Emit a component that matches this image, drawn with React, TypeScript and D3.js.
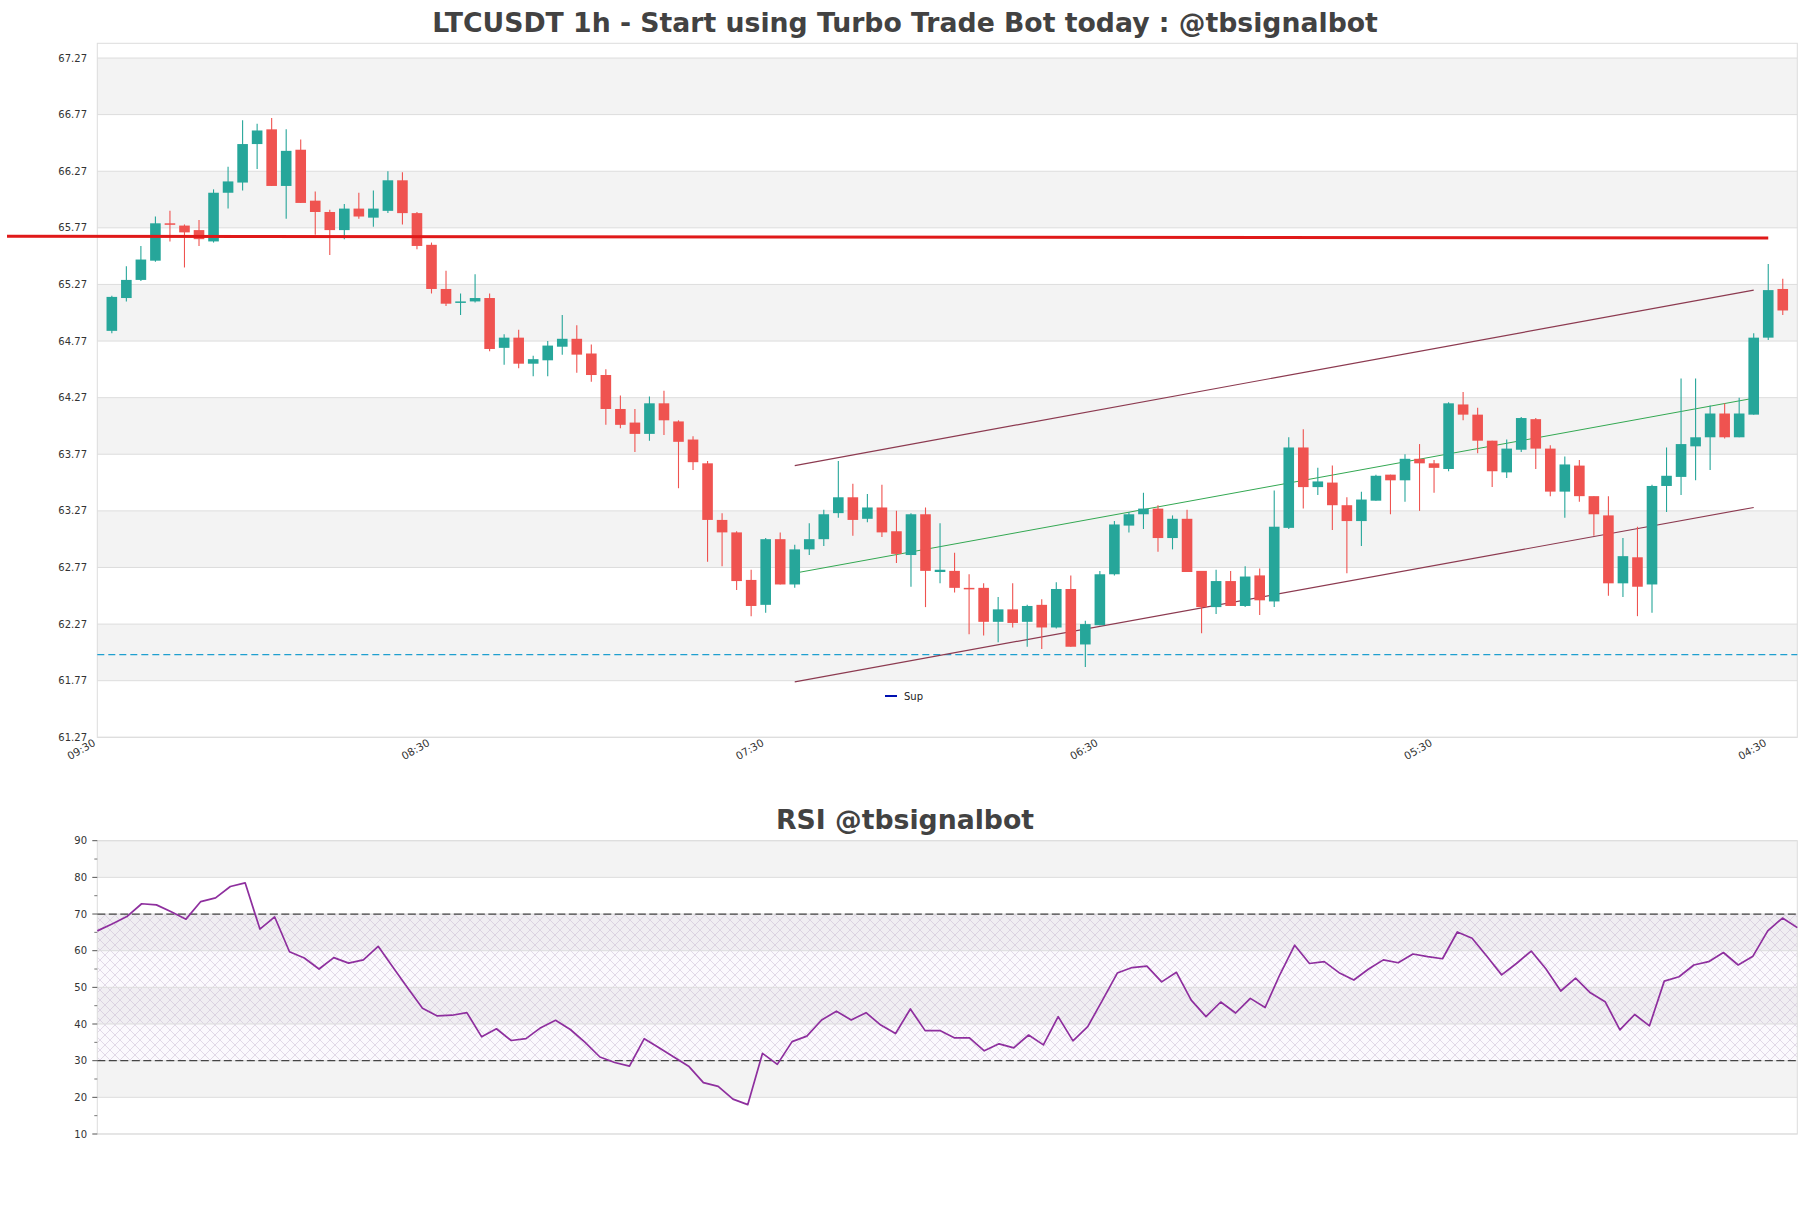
import React from 'react';
import * as d3 from 'd3';

// ---------------- DATA ----------------
const openP = [
  64.86, 65.15, 65.31, 65.48, 65.81, 65.79, 65.75, 65.65, 66.08, 66.17,
  66.51, 66.64, 66.14, 66.46, 66.01, 65.91, 65.75, 65.94, 65.86, 65.92,
  66.19, 65.90, 65.62, 65.23, 65.11, 65.12, 65.15, 64.71, 64.80, 64.57,
  64.60, 64.72, 64.79, 64.66, 64.47, 64.17, 64.05, 63.95, 64.22, 64.06,
  63.90, 63.69, 63.19, 63.08, 62.66, 62.44, 63.02, 62.62, 62.93, 63.02,
  63.25, 63.39, 63.20, 63.30, 63.09, 62.88, 63.24, 62.73, 62.74, 62.59,
  62.59, 62.29, 62.40, 62.29, 62.44, 62.24, 62.58, 62.09, 62.26, 62.71,
  63.14, 63.24, 63.29, 63.03, 63.20, 62.74, 62.42, 62.65, 62.43, 62.70,
  62.47, 63.12, 63.83, 63.48, 63.52, 63.32, 63.18, 63.36, 63.59, 63.54,
  63.73, 63.69, 63.64, 64.21, 64.12, 63.89, 63.61, 63.81, 64.08, 63.82,
  63.44, 63.67, 63.40, 63.23, 62.63, 62.86, 62.62, 63.49, 63.57, 63.84,
  63.92, 64.13, 63.92, 64.12, 64.80, 65.23,
];
const highP = [
  65.17, 65.43, 65.61, 65.87, 65.92, 65.80, 65.84, 66.11, 66.31, 66.72,
  66.69, 66.74, 66.64, 66.55, 66.09, 65.93, 65.98, 66.08, 66.10, 66.27,
  66.26, 65.91, 65.64, 65.39, 65.19, 65.36, 65.19, 64.83, 64.87, 64.64,
  64.77, 65.00, 64.91, 64.74, 64.52, 64.29, 64.17, 64.28, 64.33, 64.07,
  63.93, 63.71, 63.25, 63.09, 62.75, 63.03, 63.08, 62.97, 63.16, 63.28,
  63.71, 63.51, 63.42, 63.50, 63.27, 63.25, 63.30, 63.16, 62.90, 62.71,
  62.63, 62.51, 62.63, 62.44, 62.49, 62.64, 62.70, 62.30, 62.74, 63.18,
  63.26, 63.43, 63.32, 63.23, 63.28, 62.74, 62.75, 62.74, 62.78, 62.76,
  63.45, 63.92, 63.99, 63.65, 63.67, 63.39, 63.44, 63.59, 63.59, 63.77,
  63.86, 63.72, 64.23, 64.32, 64.18, 63.89, 63.90, 64.10, 64.09, 63.85,
  63.75, 63.72, 63.40, 63.40, 63.03, 63.13, 63.50, 63.83, 64.44, 64.44,
  64.20, 64.22, 64.27, 64.84, 65.45, 65.32,
];
const lowP = [
  64.84, 65.12, 65.30, 65.47, 65.65, 65.42, 65.61, 65.64, 65.94, 66.10,
  66.29, 66.14, 65.85, 65.99, 65.71, 65.53, 65.67, 65.85, 65.78, 65.90,
  65.80, 65.58, 65.19, 65.08, 65.00, 65.11, 64.68, 64.56, 64.53, 64.46,
  64.46, 64.65, 64.49, 64.41, 64.03, 64.00, 63.79, 63.89, 63.94, 63.47,
  63.63, 62.82, 62.78, 62.57, 62.34, 62.37, 62.62, 62.59, 62.88, 62.96,
  63.21, 63.05, 63.17, 63.04, 62.81, 62.60, 62.42, 62.63, 62.55, 62.18,
  62.17, 62.11, 62.24, 62.07, 62.05, 62.23, 62.07, 61.89, 62.26, 62.70,
  63.08, 63.11, 62.91, 62.93, 62.73, 62.19, 62.36, 62.43, 62.42, 62.35,
  62.42, 63.11, 63.29, 63.41, 63.10, 62.72, 62.96, 63.36, 63.24, 63.35,
  63.27, 63.43, 63.62, 64.07, 63.78, 63.48, 63.56, 63.79, 63.64, 63.40,
  63.21, 63.35, 63.05, 62.52, 62.51, 62.34, 62.37, 63.26, 63.41, 63.54,
  63.63, 63.91, 63.92, 64.12, 64.78, 65.00,
];
const closeP = [
  65.16, 65.31, 65.49, 65.81, 65.80, 65.73, 65.67, 66.08, 66.18, 66.51,
  66.63, 66.14, 66.45, 65.99, 65.91, 65.75, 65.94, 65.87, 65.94, 66.19,
  65.90, 65.61, 65.23, 65.10, 65.12, 65.15, 64.70, 64.80, 64.57, 64.61,
  64.73, 64.79, 64.65, 64.47, 64.17, 64.03, 63.95, 64.22, 64.07, 63.88,
  63.70, 63.19, 63.08, 62.65, 62.43, 63.02, 62.62, 62.93, 63.02, 63.24,
  63.39, 63.19, 63.30, 63.08, 62.89, 63.24, 62.74, 62.75, 62.59, 62.58,
  62.29, 62.40, 62.28, 62.43, 62.24, 62.58, 62.07, 62.27, 62.71, 63.15,
  63.24, 63.29, 63.03, 63.20, 62.73, 62.42, 62.65, 62.43, 62.69, 62.48,
  63.13, 63.83, 63.48, 63.53, 63.32, 63.18, 63.37, 63.58, 63.54, 63.73,
  63.69, 63.65, 64.22, 64.12, 63.89, 63.62, 63.82, 64.09, 63.82, 63.44,
  63.68, 63.40, 63.24, 62.63, 62.87, 62.60, 63.49, 63.58, 63.86, 63.92,
  64.13, 63.92, 64.13, 64.80, 65.22, 65.04,
];
const rsiValues = [
  65.4, 67.3, 69.3, 72.8, 72.5, 70.6, 68.6, 73.4, 74.4, 77.5,
  78.5, 65.9, 69.2, 59.7, 58.0, 55.0, 58.1, 56.6, 57.5, 61.2,
  55.5, 49.8, 44.3, 42.2, 42.4, 43.1, 36.5, 38.7, 35.5, 36.0,
  39.0, 41.0, 38.5, 35.0, 31.0, 29.5, 28.5, 36.0, 33.5, 31.0,
  28.5, 24.0, 23.0, 19.5, 18.0, 32.0, 29.0, 35.2, 36.7, 41.1,
  43.5, 41.1, 43.1, 39.7, 37.4, 44.1, 38.2, 38.2, 36.2, 36.2,
  32.7, 34.6, 33.5, 37.0, 34.3, 42.0, 35.4, 39.3, 46.5, 53.9,
  55.4, 55.8, 51.5, 54.1, 46.5, 42.0, 46.0, 43.0, 47.0, 44.5,
  53.5, 61.5, 56.5, 57.0, 54.0, 52.0, 55.0, 57.5, 56.7, 59.1,
  58.4, 57.8, 65.1, 63.4, 58.5, 53.4, 56.5, 59.9, 55.0, 49.0,
  52.5, 48.5, 46.1, 38.4, 42.6, 39.5, 51.7, 52.9, 56.1, 57.0,
  59.5, 56.1, 58.5, 65.4, 68.9, 66.3,
];
const priceTicks = [61.27, 61.77, 62.27, 62.77, 63.27, 63.77, 64.27, 64.77, 65.27, 65.77, 66.27, 66.77, 67.27];
const rsiTicks = [10, 20, 30, 40, 50, 60, 70, 80, 90];
const rsiMinorTicks = [15, 25, 35, 45, 55, 65, 75, 85];
const xTickIndex = [-1, 22, 45, 68, 91, 114];
const xTickLabels = ['09:30', '08:30', '07:30', '06:30', '05:30', '04:30'];
const resistanceStart = 65.695;
const resistanceEnd = 65.68;
const resistanceEndIndex = 114;
const supportLevel = 62.0;
const channelUpper = [[47, 63.67], [113, 65.22]];
const channelLower = [[47, 61.76], [113, 63.3]];
const channelMid = [[47, 62.72], [113, 64.265]];
const rsiUpper = 70;
const rsiLower = 30;
const titleMain = 'LTCUSDT 1h - Start using Turbo Trade Bot today : @tbsignalbot';
const titleRsi = 'RSI @tbsignalbot';
const legendLabel = 'Sup';

// ---------------- LAYOUT ----------------
const W = 1811;
const H = 1208;
const L = 97.3;
const R = 1797.3;
const P_TOP = 43.3;
const P_BOT = 737.3;
const R_TOP = 840.7;
const R_BOT = 1134;
const FONT = 'DejaVu Sans, Verdana, sans-serif';
const GREEN = '#26a69a';
const RED = '#ef5350';
const BAND = '#f3f3f3';
const GRID = '#dddddd';

export default function App() {
  const n = closeP.length;
  const x = d3.scaleLinear().domain([-1, n]).range([L, R]);
  const y = d3.scaleLinear().domain([61.27, 67.4]).range([P_BOT, P_TOP]);
  const xr = d3.scaleLinear().domain([0, rsiValues.length - 1]).range([L, R]);
  const yr = d3.scaleLinear().domain([10, 90]).range([R_BOT, R_TOP]);
  const step = x(1) - x(0);
  const bw = step * 0.73;

  const rsiLine = d3.line<number>().x((_, i) => xr(i)).y((v) => yr(v))(rsiValues) || '';
  const seg = (pts: number[][]) =>
    d3.line<number[]>().x((p) => x(p[0])).y((p) => y(p[1]))(pts) || '';

  return (
    <svg width={W} height={H} style={{ position: 'absolute', left: 0, top: 0, background: '#fff' }}
      xmlns="http://www.w3.org/2000/svg">
      <defs>
        <pattern id="hatch" width="10" height="10" patternUnits="userSpaceOnUse">
          <rect width="10" height="10" fill="rgba(225,205,235,0.12)" />
          <path d="M0,0 L10,10 M10,0 L0,10" stroke="#c4b6d0" strokeWidth="0.6" opacity="0.8" />
        </pattern>
      </defs>
      <rect x={0} y={0} width={W} height={H} fill="#fff" />

      {/* ---------- Titles ---------- */}
      <text x={905} y={32} textAnchor="middle" fontFamily={FONT} fontWeight="bold" fontSize={26.7} fill="#424242">
        {titleMain}
      </text>
      <text x={905} y={829} textAnchor="middle" fontFamily={FONT} fontWeight="bold" fontSize={26.7} fill="#424242">
        {titleRsi}
      </text>

      {/* ---------- Price panel ---------- */}
      {priceTicks.slice(0, -1).map((t, k) =>
        k % 2 === 1 ? (
          <rect key={'pb' + k} x={L} width={R - L} y={y(priceTicks[k + 1])}
            height={y(t) - y(priceTicks[k + 1])} fill={BAND} />
        ) : null
      )}
      {priceTicks.map((t) => (
        <line key={'pg' + t} x1={L} x2={R} y1={y(t)} y2={y(t)} stroke={GRID} strokeWidth={1} />
      ))}
      <rect x={L} y={P_TOP} width={R - L} height={P_BOT - P_TOP} fill="none" stroke={GRID} strokeWidth={1} />
      {priceTicks.map((t) => (
        <text key={'pl' + t} x={87} y={y(t)} dy="0.35em" textAnchor="end" fontFamily={FONT} fontSize={10} fill="#333">
          {t.toFixed(2)}
        </text>
      ))}
      {xTickIndex.map((ti, k) => (
        <text key={'xl' + k} transform={`translate(${x(ti) - 1},745) rotate(-30)`} textAnchor="end"
          fontFamily={FONT} fontSize={10.5} fill="#333">
          {xTickLabels[k]}
        </text>
      ))}

      {/* support dashed */}
      <line x1={L} x2={R} y1={y(supportLevel)} y2={y(supportLevel)} stroke="#1f9fcf" strokeWidth={1.3}
        strokeDasharray="7,4" />

      {/* channel */}
      <path d={seg(channelUpper)} stroke="#8c3a50" strokeWidth={1.2} fill="none" />
      <path d={seg(channelLower)} stroke="#8c3a50" strokeWidth={1.2} fill="none" />
      <path d={seg(channelMid)} stroke="#33a852" strokeWidth={1} fill="none" />

      {/* candles */}
      {closeP.map((c, i) => {
        const o = openP[i];
        const up = c >= o;
        const col = up ? GREEN : RED;
        const top = y(Math.max(o, c));
        const bot = y(Math.min(o, c));
        return (
          <g key={'c' + i}>
            <line x1={x(i)} x2={x(i)} y1={y(highP[i])} y2={y(lowP[i])} stroke={col} strokeWidth={1.1} />
            <rect x={x(i) - bw / 2} y={top} width={bw} height={Math.max(1.5, bot - top)} fill={col} />
          </g>
        );
      })}

      {/* resistance red line */}
      <line x1={7} x2={x(resistanceEndIndex)} y1={y(resistanceStart)} y2={y(resistanceEnd)}
        stroke="#e01919" strokeWidth={3} />

      {/* legend */}
      <line x1={885} x2={897} y1={696} y2={696} stroke="#0010b0" strokeWidth={2} />
      <text x={904} y={696} dy="0.35em" fontFamily={FONT} fontSize={10} fill="#222">{legendLabel}</text>

      {/* ---------- RSI panel ---------- */}
      {rsiTicks.slice(0, -1).map((t, k) =>
        k % 2 === 1 ? (
          <rect key={'rb' + k} x={L} width={R - L} y={yr(rsiTicks[k + 1])}
            height={yr(t) - yr(rsiTicks[k + 1])} fill={BAND} />
        ) : null
      )}
      <rect x={L} y={yr(rsiUpper)} width={R - L} height={yr(rsiLower) - yr(rsiUpper)} fill="url(#hatch)" />
      {rsiTicks.map((t) => (
        <line key={'rg' + t} x1={L} x2={R} y1={yr(t)} y2={yr(t)} stroke={GRID} strokeWidth={1} />
      ))}
      <rect x={L} y={R_TOP} width={R - L} height={R_BOT - R_TOP} fill="none" stroke={GRID} strokeWidth={1} />
      {rsiTicks.map((t) => (
        <g key={'rt' + t}>
          <line x1={L - 5} x2={L} y1={yr(t)} y2={yr(t)} stroke="#555" strokeWidth={1} />
          <text x={87} y={yr(t)} dy="0.35em" textAnchor="end" fontFamily={FONT} fontSize={10} fill="#333">{t}</text>
        </g>
      ))}
      {rsiMinorTicks.map((t) => (
        <line key={'rm' + t} x1={L - 3} x2={L} y1={yr(t)} y2={yr(t)} stroke="#777" strokeWidth={1} />
      ))}
      <line x1={L} x2={R} y1={yr(rsiUpper)} y2={yr(rsiUpper)} stroke="#444" strokeWidth={1.3} strokeDasharray="8,3.5" />
      <line x1={L} x2={R} y1={yr(rsiLower)} y2={yr(rsiLower)} stroke="#444" strokeWidth={1.3} strokeDasharray="8,3.5" />
      <path d={rsiLine} fill="none" stroke="#8e2f9e" strokeWidth={1.7} strokeLinejoin="round" />
    </svg>
  );
}
